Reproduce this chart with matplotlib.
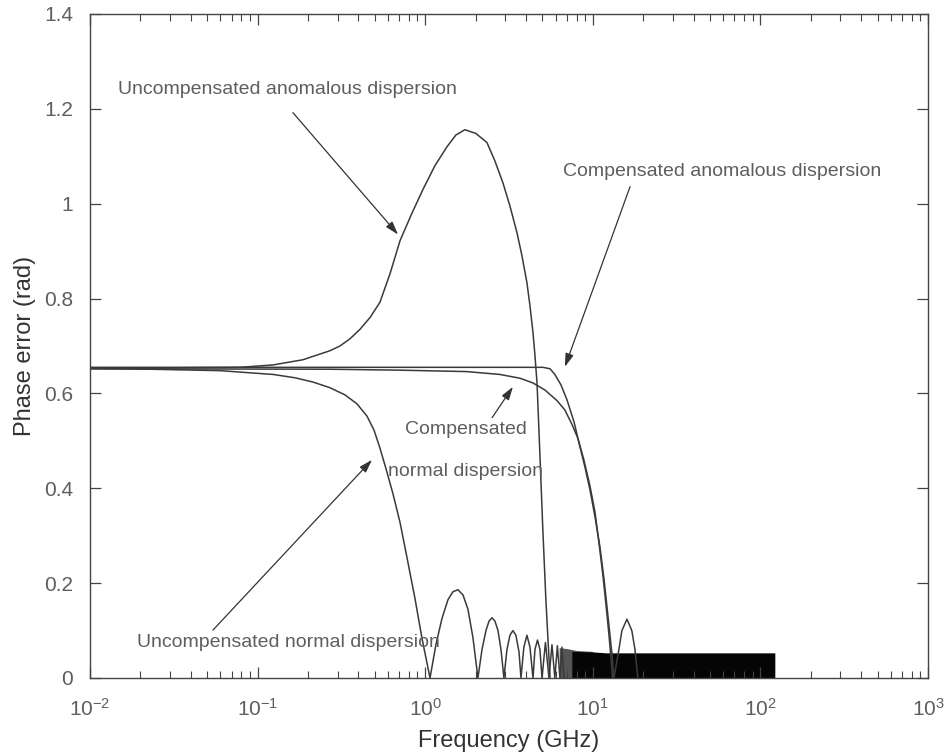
import matplotlib
matplotlib.use("Agg")
import matplotlib.pyplot as plt

plt.rcParams["font.family"] = ["Liberation Sans", "DejaVu Sans"]
plt.rcParams["mathtext.fontset"] = "custom"
plt.rcParams["mathtext.rm"] = "Liberation Sans"
plt.rcParams["mathtext.it"] = "Liberation Sans"

# 读图得到的数据 (频率 GHz, 相位误差 rad)
# Uncompensated anomalous dispersion
ua_f = [0.01, 0.0785, 0.1236, 0.1866, 0.2704, 0.310, 0.3556, 0.408, 0.469, 0.537, 0.6166,
        0.708, 0.834, 0.970, 1.143, 1.349, 1.527, 1.726, 2.010, 2.336, 2.608, 2.911,
        3.206, 3.53, 3.782, 4.05, 4.22, 4.40, 4.52, 4.65, 4.84, 5.04, 5.26, 5.56]
ua_y = [0.653, 0.655, 0.660, 0.671, 0.690, 0.700, 0.715, 0.735, 0.760, 0.792, 0.852,
        0.922, 0.980, 1.030, 1.080, 1.120, 1.145, 1.156, 1.148, 1.129, 1.090, 1.044,
        0.995, 0.939, 0.890, 0.833, 0.785, 0.728, 0.680, 0.622, 0.470, 0.310, 0.160, 0.0]

# Uncompensated normal dispersion (含过零后逐渐变密的衰减瓣)
un_f = [0.01, 0.0228, 0.0597, 0.1236, 0.167, 0.214, 0.2704, 0.332, 0.392, 0.450,
        0.496, 0.537, 0.583, 0.643, 0.708, 0.778, 0.869, 0.957, 1.069,
        1.159, 1.259, 1.368, 1.466, 1.57, 1.682, 1.80, 1.928, 2.065,
        2.183, 2.306, 2.404, 2.506, 2.608, 2.72, 2.834, 2.951,
        3.076, 3.206, 3.34, 3.48, 3.63, 3.73,
        3.88, 4.05, 4.22, 4.40,
        4.52, 4.68, 4.84, 4.98,
        5.22, 5.48, 5.71, 5.94, 6.15, 6.37, 6.55, 6.73]
un_y = [0.652, 0.651, 0.648, 0.640, 0.633, 0.624, 0.612, 0.597, 0.578, 0.552,
        0.522, 0.485, 0.442, 0.388, 0.328, 0.255, 0.168, 0.084, 0.0,
        0.070, 0.125, 0.165, 0.182, 0.186, 0.175, 0.145, 0.085, 0.0,
        0.060, 0.100, 0.120, 0.127, 0.120, 0.100, 0.060, 0.0,
        0.060, 0.090, 0.100, 0.090, 0.055, 0.0,
        0.065, 0.090, 0.065, 0.0,
        0.060, 0.080, 0.060, 0.0,
        0.075, 0.0, 0.070, 0.0, 0.068, 0.0, 0.065, 0.0]

# Compensated normal dispersion
cn_f = [0.01, 0.27, 0.708, 1.775, 2.79, 3.68, 4.40, 5.19, 6.11, 6.82, 7.51, 8.16,
        8.85, 9.62, 10.31, 10.89, 11.51, 11.99, 12.50, 12.85, 13.12]
cn_y = [0.652, 0.651, 0.649, 0.646, 0.640, 0.632, 0.622, 0.607, 0.585, 0.565, 0.535, 0.505,
        0.460, 0.405, 0.350, 0.285, 0.215, 0.155, 0.090, 0.040, 0.0]

# Compensated anomalous dispersion (含 13-19 GHz 的小瓣)
ca_f = [0.01, 1.0, 5.04, 5.56, 5.94, 6.46, 7.01, 7.73, 8.39, 8.98, 9.62, 10.31,
        11.04, 11.66, 12.16, 12.67, 13.03, 13.37,
        14.32, 14.93, 16.0, 17.1, 17.86, 18.6]
ca_y = [0.655, 0.655, 0.655, 0.652, 0.640, 0.618, 0.587, 0.540, 0.487, 0.445, 0.397, 0.340,
        0.276, 0.210, 0.150, 0.090, 0.050, 0.0,
        0.060, 0.100, 0.124, 0.100, 0.060, 0.0]

# 高频段密集振荡形成的黑色区域包络
dense_f = [6.3, 7.0, 8.0, 10.0]
dense_top = [0.064, 0.062, 0.058, 0.056]
block_f = [7.5, 10.0, 12.0, 30.0, 60.0, 122.0]
block_top = [0.056, 0.055, 0.053, 0.053, 0.053, 0.053]

line_color = "#3a3a3a"
text_color = "#5e5e5e"

fig = plt.figure(figsize=(9.44, 7.56), dpi=100)
ax = fig.add_axes([0.0953, 0.1032, 0.8877, 0.8783])

ax.fill_between(dense_f, 0, dense_top, color="#555555", lw=0)
ax.fill_between(block_f, 0, block_top, color="#050505", lw=0)

for f, y in [(ua_f, ua_y), (un_f, un_y), (cn_f, cn_y), (ca_f, ca_y)]:
    ax.plot(f, y, color=line_color, lw=1.1)

ax.set_xscale("log")
ax.set_xlim(0.01, 1000)
ax.set_ylim(0, 1.4)
ax.set_yticks([0, 0.2, 0.4, 0.6, 0.8, 1.0, 1.2, 1.4])
ax.set_yticklabels(["0", "0.2", "0.4", "0.6", "0.8", "1", "1.2", "1.4"])
ax.set_xticks([0.01, 0.1, 1, 10, 100, 1000])
ax.set_xticklabels([r"$10^{-2}$", r"$10^{-1}$", r"$10^{0}$", r"$10^{1}$", r"$10^{2}$", r"$10^{3}$"])
minor = [m * 10.0 ** e for e in range(-2, 3) for m in range(2, 10)]
ax.set_xticks(minor, minor=True)

ax.tick_params(which="both", direction="in", top=True, right=True,
               colors="#444444", labelcolor=text_color, labelsize=15)
ax.tick_params(which="major", length=8, width=0.9)
ax.tick_params(which="minor", length=5, width=0.8)
ax.tick_params(axis="x", which="major", pad=14)
ax.tick_params(axis="y", which="major", pad=12)
for s in ax.spines.values():
    s.set_color("#444444")
    s.set_linewidth(1.0)

ax.set_xlabel("Frequency (GHz)", fontsize=17, color="#333333", labelpad=8)
ax.set_ylabel("Phase error (rad)", fontsize=17, color="#333333", labelpad=6)

# 标注文字与箭头
tkw = dict(fontsize=14, color=text_color)
ax.text(0.01469, 1.2405, "Uncompensated anomalous dispersion", ha="left", va="center", **tkw)
ax.text(6.64, 1.0675, "Compensated anomalous dispersion", ha="left", va="center", **tkw)
ax.text(1.74, 0.523, "Compensated", ha="center", va="center", **tkw)
ax.text(1.74, 0.435, "normal dispersion", ha="center", va="center", **tkw)
ax.text(0.01907, 0.0738, "Uncompensated normal dispersion", ha="left", va="center", **tkw)

akw = dict(arrowstyle="-|>,head_length=0.8,head_width=0.25", color="#333333", lw=0.9,
           shrinkA=0, shrinkB=0)
arrows = [((0.1625, 1.192), (0.689, 0.935)),
          ((16.7, 1.036), (6.82, 0.656)),
          ((2.51, 0.549), (3.34, 0.614)),
          ((0.0542, 0.101), (0.482, 0.46))]
for tail, tip in arrows:
    ax.annotate("", xy=tip, xytext=tail, arrowprops=akw)

fig.savefig("out.png", dpi=100)
